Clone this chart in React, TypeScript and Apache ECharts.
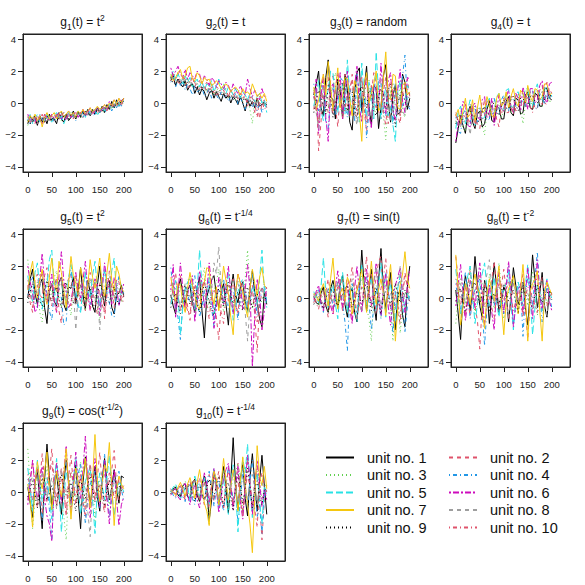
import React, { useEffect, useRef } from "react";
import * as echarts from "echarts";

const timeSteps = [0,5,10,15,20,25,30,35,40,45,50,55,60,65,70,75,80,85,90,95,100,105,110,115,120,125,130,135,140,145,150,155,160,165,170,175,180,185,190,195,200];
const xTicks = [0, 50, 100, 150, 200];
const yTicks = [-4, -2, 0, 2, 4];

const unitNames = ["unit no. 1", "unit no. 2", "unit no. 3", "unit no. 4", "unit no. 5", "unit no. 6", "unit no. 7", "unit no. 8", "unit no. 9", "unit no. 10"];
const unitColors = ["#000000", "#DF536B", "#61D04F", "#2297E6", "#28E2E5", "#CD0BBC", "#F5C710", "#9E9E9E", "#000000", "#DF536B"];
const unitDashes: any[] = ["solid", [4, 4], [1, 3], [1, 3, 4, 3], [7, 3], [2, 2, 6, 2], "solid", [4, 4], [1, 3], [1, 3, 4, 3]];

const titleSubs = ["1", "2", "3", "4", "5", "6", "7", "8", "9", "10"];
const titleBodies = ["(t) = t", "(t) = t", "(t) = random", "(t) = t", "(t) = t", "(t) = t", "(t) = sin(t)", "(t) = t", "(t) = cos(t", "(t) = t"];
const titleSups = ["2", "", "", "", "2", "-1/4", "", "-2", "-1/2", "-1/4"];
const titleTails = ["", "", "", "", "", "", "", "", ")", ""];

const panel1 = [
  [-1.3,-0.8,-1.2,-0.9,-1.4,-0.8,-1.2,-0.9,-1.3,-0.7,-1.1,-1.0,-1.3,-0.6,-1.0,-1.2,-0.7,-1.1,-0.9,-0.5,-1.0,-0.6,-0.9,-0.5,-0.8,-0.4,-0.8,-0.4,-0.7,-0.3,-0.6,-0.2,-0.6,-0.1,-0.4,0.1,-0.3,0.2,-0.2,0.1,0.3],
  [-0.8,-1.2,-1.0,-1.3,-0.9,-1.1,-0.7,-1.2,-0.9,-1.0,-1.2,-0.7,-0.9,-1.1,-0.6,-0.9,-1.0,-0.6,-0.8,-1.0,-0.5,-0.9,-0.7,-0.9,-0.4,-0.8,-0.6,-0.3,-0.7,-0.5,-0.2,-0.6,-0.3,-0.5,0.0,-0.4,-0.1,-0.3,0.2,-0.2,0.3],
  [-1.4,-1.0,-0.8,-1.2,-1.1,-0.8,-1.2,-0.7,-1.0,-1.2,-0.8,-1.1,-0.6,-0.9,-1.1,-0.7,-1.0,-0.8,-0.6,-1.0,-0.8,-0.5,-0.9,-0.8,-0.5,-0.7,-0.8,-0.4,-0.6,-0.7,-0.3,-0.5,-0.6,-0.2,-0.3,-0.4,0.0,-0.2,0.1,-0.1,0.0],
  [-1.0,-1.3,-0.8,-1.1,-1.3,-0.7,-1.0,-1.2,-0.8,-1.1,-0.9,-1.2,-0.8,-0.7,-1.1,-0.6,-0.9,-1.0,-0.7,-0.9,-1.1,-0.6,-0.8,-0.9,-0.6,-0.8,-0.5,-0.8,-0.7,-0.4,-0.6,-0.3,-0.6,-0.4,-0.2,-0.5,-0.1,-0.3,0.1,-0.2,0.2],
  [-1.1,-0.7,-1.3,-1.0,-0.7,-1.2,-0.9,-1.1,-0.7,-1.0,-1.2,-0.8,-0.6,-1.0,-0.8,-1.3,-0.9,-0.6,-0.9,-0.7,-1.0,-0.5,-0.8,-0.6,-0.9,-0.4,-0.7,-0.6,-0.4,-0.8,-0.5,-0.2,-0.5,-0.3,-0.1,-0.4,-0.2,0.1,-0.2,0.2,0.1],
  [-0.7,-1.1,-0.9,-1.2,-0.8,-1.0,-1.3,-0.7,-0.9,-1.1,-0.7,-1.0,-0.8,-0.6,-1.0,-0.8,-1.1,-0.5,-0.9,-0.7,-0.6,-0.9,-0.6,-0.4,-0.8,-0.6,-0.3,-0.7,-0.5,-0.3,-0.5,-0.4,-0.1,-0.4,0.1,-0.2,0.2,-0.1,0.3,0.1,0.3],
  [-1.2,-0.8,-1.0,-0.7,-1.1,-0.8,-1.5,-0.9,-0.6,-1.0,-0.8,-0.6,-1.0,-0.7,-0.5,-0.9,-0.7,-0.5,-0.8,-0.6,-0.9,-0.5,-0.7,-0.4,-0.7,-0.5,-0.3,-0.6,-0.4,-0.2,-0.4,-0.3,-0.1,-0.3,0.0,-0.2,0.2,-0.1,0.3,0.0,0.3],
  [-1.0,-1.1,-1.2,-0.9,-1.0,-1.1,-0.8,-1.0,-0.9,-0.8,-1.0,-0.9,-0.8,-0.9,-0.7,-0.9,-0.8,-0.7,-0.9,-0.7,-0.8,-0.7,-0.6,-0.7,-0.6,-0.7,-0.5,-0.6,-0.5,-0.4,-0.5,-0.4,-0.4,-0.3,-0.3,-0.2,-0.2,-0.1,-0.1,0.0,0.1],
  [-1.1,-1.3,-1.0,-0.8,-1.2,-1.0,-0.9,-1.2,-0.8,-1.0,-1.1,-0.8,-0.9,-1.0,-0.6,-0.9,-0.8,-1.0,-0.7,-0.8,-0.9,-0.6,-0.8,-0.7,-0.5,-0.7,-0.6,-0.5,-0.7,-0.4,-0.5,-0.5,-0.3,-0.4,-0.3,-0.1,-0.3,0.0,-0.1,0.1,0.1],
  [-0.9,-1.2,-1.1,-0.8,-1.3,-0.9,-1.0,-0.7,-1.1,-0.9,-0.8,-1.1,-0.7,-0.9,-0.8,-0.6,-1.0,-0.8,-0.7,-1.0,-0.7,-0.8,-0.6,-0.9,-0.7,-0.5,-0.8,-0.6,-0.4,-0.6,-0.5,-0.3,-0.4,-0.5,-0.2,-0.3,-0.1,-0.2,0.0,-0.1,0.2],
];
const panel2 = [
  [1.4,1.7,1.1,1.5,1.2,1.0,1.4,0.8,1.1,1.2,0.6,1.0,0.5,0.9,0.7,0.2,0.6,0.8,0.3,0.7,0.4,0.1,0.6,0.3,0.5,0.0,0.4,0.2,-0.1,0.4,0.0,-0.5,0.2,-0.2,0.1,-0.3,0.3,-0.2,-0.1,0.0,-0.1],
  [1.7,1.3,1.5,1.9,1.3,1.6,1.1,1.5,1.2,1.7,1.0,1.3,1.4,0.9,1.1,1.3,0.8,1.2,0.6,1.0,0.9,0.5,0.8,0.9,0.4,0.8,0.5,0.7,0.2,0.6,0.3,0.5,-0.2,0.4,0.1,-0.6,0.3,-1.0,0.0,0.2,-0.3],
  [1.5,1.9,1.6,1.2,1.4,1.7,1.1,1.5,1.3,1.0,1.4,1.2,0.8,1.1,1.0,0.7,1.2,0.9,0.5,0.8,0.9,0.5,0.7,0.6,0.3,0.8,0.5,0.2,0.6,0.4,0.1,0.5,0.3,-0.4,-1.3,0.2,0.0,0.4,0.1,-0.2,-0.1],
  [1.3,1.6,1.0,1.4,1.1,1.5,0.8,1.2,0.9,0.5,1.1,0.7,0.8,1.0,0.4,0.6,0.9,0.3,0.6,0.5,0.2,0.7,0.3,0.5,0.1,0.4,0.2,0.6,-0.1,0.3,0.0,-0.4,0.2,0.1,-0.3,0.2,-0.5,0.0,-0.6,-0.1,-0.2],
  [1.6,2.0,1.4,1.8,1.5,1.2,1.7,1.3,1.6,1.0,1.3,1.5,1.0,1.4,0.8,1.2,1.0,1.4,0.7,1.1,1.5,0.8,1.2,0.6,1.0,0.8,0.5,0.9,0.6,0.3,0.7,0.5,0.2,0.6,0.3,0.1,0.4,0.6,0.0,0.2,-0.6],
  [2.2,1.7,2.0,2.3,1.8,1.6,2.1,1.5,1.9,1.7,1.5,2.0,1.8,1.3,1.7,1.5,1.1,1.6,1.4,1.0,1.4,1.2,0.9,1.3,1.1,0.7,1.2,0.8,0.6,1.1,0.7,0.5,1.5,0.9,0.4,0.8,0.5,0.2,0.9,0.4,0.4],
  [1.8,1.4,1.6,1.9,2.1,1.5,1.7,2.2,2.3,1.5,1.4,1.9,1.7,1.2,1.6,1.4,1.5,1.1,1.2,1.4,1.2,0.9,1.1,1.2,1.0,0.7,0.9,1.0,0.8,0.5,0.9,0.6,0.7,0.5,1.2,0.8,0.4,0.6,0.3,0.6,0.1],
  [1.5,1.6,1.6,1.4,1.3,1.5,1.4,1.2,1.3,1.1,1.1,1.2,1.1,1.0,0.9,0.9,0.9,0.8,0.8,0.7,0.7,0.6,0.6,0.6,0.5,0.5,0.4,0.5,0.3,0.3,0.3,0.2,0.3,0.1,0.1,0.2,0.0,0.1,0.0,-0.1,0.1],
  [1.6,1.2,1.3,1.5,1.2,1.4,1.1,1.3,1.0,1.2,0.9,1.1,0.8,1.0,0.7,0.9,0.6,0.8,0.5,0.7,0.5,0.6,0.4,0.5,0.3,0.5,0.2,0.4,0.1,0.3,0.2,0.3,0.0,0.2,-0.1,0.1,-0.2,0.0,-0.1,0.1,0.0],
  [1.4,1.8,1.7,1.3,1.2,1.6,1.5,1.0,1.0,1.4,1.3,0.8,0.9,1.2,1.1,0.7,0.7,1.0,0.9,0.5,0.6,0.9,0.8,0.4,0.4,0.8,0.6,0.3,0.3,0.6,0.5,0.2,0.1,0.5,0.3,0.0,-0.9,0.2,0.1,-0.4,-0.2],
];
const panel3 = [
  [0.5,1.2,2.0,-0.3,-0.8,1.6,2.7,0.4,0.2,-1.0,1.5,0.8,-1.0,1.8,0.8,-1.2,-1.7,0.6,1.9,2.2,-0.5,0.9,2.3,-0.2,-1.4,1.1,0.9,-1.6,-0.3,1.7,2.4,0.2,-1.2,0.5,1.1,-0.7,-0.6,1.8,1.3,-0.4,0.3],
  [-0.4,0.9,-3.0,-1.2,1.2,0.3,-0.6,1.4,1.7,-0.2,-1.5,0.6,0.9,1.8,-0.2,0.5,1.8,-0.7,-0.9,1.1,1.4,-0.4,-1.8,0.2,0.6,1.9,1.3,-0.5,-1.0,0.7,1.6,-1.3,-0.4,1.0,0.8,-0.8,-1.3,0.4,1.0,1.5,0.4],
  [0.8,-0.3,-1.2,1.1,1.5,-0.6,-0.3,0.7,0.9,1.9,1.3,-0.2,-0.8,1.0,1.7,-0.9,-0.4,0.8,0.6,-1.2,-1.1,0.5,1.2,1.5,0.3,-0.4,-0.6,0.9,1.5,-0.8,-2.3,0.1,0.7,1.3,-0.5,0.2,1.1,-0.6,-0.9,0.8,0.6],
  [1.2,0.1,-0.5,1.3,0.6,-1.2,-1.6,0.4,1.0,-0.8,-0.3,1.6,1.4,-0.2,-0.9,0.8,0.5,-1.1,1.8,0.6,-0.7,1.2,-2.2,-0.5,1.0,0.3,-0.2,1.5,1.2,-0.4,-0.8,0.9,0.4,-1.3,1.3,0.2,-0.5,1.7,3.0,-0.1,-0.4],
  [-0.2,0.6,1.4,-0.5,-1.1,0.3,0.8,2.0,1.9,-0.3,-0.6,1.0,1.2,-0.7,2.7,0.5,-0.4,1.1,0.7,-1.2,2.5,0.4,-0.9,1.3,0.5,-1.0,3.2,0.6,-1.0,0.4,0.9,-0.8,-0.3,-1.4,-2.4,0.7,1.4,-0.2,0.2,1.1,0.8],
  [0.3,1.5,-1.9,0.4,1.8,-0.9,-2.4,0.9,1.2,-0.4,0.5,1.9,-1.0,0.6,2.0,-0.8,-0.2,1.1,2.3,-0.3,-1.2,0.7,1.6,-0.7,-1.6,1.2,0.8,-0.4,2.5,0.3,-0.7,1.4,1.9,-0.5,-1.1,0.9,2.1,0.1,-0.6,1.6,1.5],
  [1.0,-0.4,0.2,1.2,1.8,0.5,2.6,1.1,-0.5,0.8,2.2,-0.3,0.4,1.6,1.5,0.2,-0.8,1.4,1.0,-0.6,-2.4,1.1,1.9,0.0,0.6,1.2,2.0,-0.5,-0.2,1.5,3.2,0.4,0.2,1.8,1.7,-0.3,-0.4,1.1,1.3,0.5,0.7],
  [0.4,-0.6,-1.6,0.2,0.9,0.5,0.1,-0.3,-0.7,0.6,1.1,0.2,0.3,-0.5,-0.4,0.7,0.9,-0.6,-1.4,0.1,0.6,0.8,0.0,-0.4,-0.9,0.3,0.8,0.4,-0.3,-0.6,1.0,0.2,-1.2,-0.1,0.5,0.6,0.2,-0.5,-0.8,0.4,0.3],
  [-0.6,0.2,0.8,0.4,-0.2,-0.7,1.1,0.3,-0.9,0.1,0.4,0.9,1.3,-0.2,-0.5,0.6,0.7,-0.4,-1.0,0.5,1.0,0.2,-0.3,0.8,0.6,-0.5,-0.8,0.3,0.9,0.6,-0.4,0.8,1.2,-0.3,-1.5,0.0,0.5,0.7,0.1,-0.3,-0.2],
  [0.7,-0.5,-1.3,0.6,0.2,1.1,1.6,-0.2,-0.6,0.9,1.9,0.4,-0.9,-0.3,0.4,1.0,1.4,0.3,-0.5,0.8,1.7,-0.4,-1.2,0.6,1.1,0.2,-0.3,0.9,0.8,-0.6,-1.4,0.5,1.5,0.7,0.0,-0.4,-0.8,0.6,1.2,0.9,0.5],
];
const panel4 = [
  [-2.5,-1.6,-0.8,-1.4,-1.9,-0.6,-0.2,-1.2,-1.6,-0.7,-0.5,-1.5,-1.3,-0.4,0.1,-1.1,-1.2,-0.2,-0.3,-1.0,-1.0,0.1,0.4,-0.6,-0.8,0.3,0.2,-0.7,-0.6,0.5,0.7,-0.3,-0.4,0.6,0.5,-0.2,-0.2,0.9,0.9,0.3,0.2],
  [-0.7,-1.4,-1.5,-0.4,0.0,-1.0,-1.2,-0.3,-0.4,-1.3,-1.6,-0.5,0.2,-0.8,-0.9,0.1,-0.1,-1.0,-1.5,-0.2,0.3,-0.6,-0.6,0.4,0.4,-0.5,-0.4,0.6,0.8,-0.2,-0.2,0.7,0.6,-0.4,-0.3,0.8,1.1,0.0,-0.1,0.9,0.6],
  [-1.2,-0.6,-0.5,-1.6,-1.8,-0.5,-0.3,-1.0,-1.0,-0.2,-0.6,-1.4,-2.0,-0.4,0.0,-0.9,-0.8,0.1,-0.2,-0.9,-0.5,0.3,0.2,-0.6,-0.4,0.5,0.5,-0.3,-1.3,-0.1,0.6,0.2,-0.3,0.7,0.9,-0.1,-0.2,0.8,0.7,0.0,0.3],
  [-0.9,-1.8,-1.9,-0.7,-0.4,-1.3,-1.3,-0.3,-0.2,-1.2,-0.9,-0.3,-0.7,-1.1,-1.0,-0.1,0.3,-0.6,-0.7,0.2,0.5,-0.4,-0.5,0.4,0.2,-0.3,0.0,0.6,0.6,-0.2,-0.1,0.7,0.8,-0.3,-0.4,0.6,0.5,-0.1,1.0,0.7,0.4],
  [-1.6,-0.6,-0.2,-1.0,-1.3,-0.4,0.2,-0.8,-1.4,-0.5,-0.3,-1.0,-0.9,0.0,0.3,-0.7,-0.6,0.4,0.6,-0.3,-0.4,0.8,0.9,-0.2,-0.3,0.6,0.7,0.0,0.1,0.9,0.9,-0.1,-0.2,0.8,1.2,0.3,0.2,1.0,0.8,0.2,0.5],
  [-2.4,-1.2,-0.9,0.1,-0.1,-1.4,-1.5,-0.2,0.0,-0.8,-1.1,0.2,0.4,-0.9,-0.6,0.3,-1.4,-0.5,0.5,-0.4,-0.5,0.4,0.8,-0.2,-0.6,0.6,0.3,-0.5,1.0,0.4,-0.4,0.9,0.9,0.0,0.2,1.1,1.4,0.3,0.0,1.2,1.3],
  [-0.8,-0.4,-1.3,-0.5,0.3,-0.9,-0.7,0.2,-1.2,-0.3,0.5,-0.6,-0.5,0.4,-0.1,-0.8,-0.9,0.3,0.6,-0.2,0.0,0.7,-0.3,0.4,0.9,0.1,-0.2,0.8,0.6,0.0,1.1,0.4,0.1,0.9,0.8,0.2,0.4,1.2,1.2,0.5,0.6],
  [-1.1,-1.3,-1.5,-0.8,-0.6,-1.2,-2.0,-0.7,-0.5,-0.8,-0.9,-0.4,-0.3,-0.6,-0.7,-0.3,-0.4,-0.5,-0.2,-0.3,-0.6,0.0,0.1,-0.2,-0.3,0.2,0.3,0.0,0.0,0.2,0.4,0.1,0.1,0.4,0.5,0.2,0.3,0.4,0.4,0.3,0.2],
  [-1.3,-0.9,-0.7,-1.2,-1.1,-0.6,-0.4,-0.9,-0.8,-1.1,-1.2,-0.5,-0.2,-0.7,-0.6,-0.1,0.0,-0.5,-0.8,-0.2,0.2,-0.3,-0.4,0.2,0.4,-0.1,-0.5,0.3,0.3,0.0,-0.1,0.4,0.5,0.1,0.0,0.5,0.7,0.2,0.2,0.6,0.3],
  [-0.6,-1.1,-1.4,-0.7,-0.9,-1.3,-0.1,-0.6,-1.5,-0.4,-0.3,-1.0,-0.8,0.1,0.2,-0.5,-0.9,-0.2,-0.1,-0.7,-0.4,0.1,0.3,-0.3,-0.7,0.4,0.6,-0.1,-0.2,0.5,0.3,-0.2,-0.6,0.5,0.8,0.1,-0.1,0.9,1.3,0.4,0.4],
];
const panel5 = [
  [0.0,1.2,1.8,0.3,-0.4,0.8,1.2,-0.6,-1.6,0.4,0.9,-0.2,-0.5,1.0,1.3,-0.4,-0.8,0.7,0.6,1.3,-0.3,0.5,1.9,0.2,-0.7,1.1,0.4,-0.5,-0.9,0.8,2.0,0.3,-0.5,0.9,1.1,-0.6,-1.0,0.2,0.3,0.8,0.1],
  [0.8,-0.3,-0.9,1.1,1.5,0.2,0.0,1.4,1.9,0.3,-0.5,0.7,1.3,-0.8,-1.6,0.5,0.8,1.2,1.5,0.1,-0.3,0.9,1.1,-0.2,-0.8,0.6,1.6,0.4,-0.2,-1.0,0.9,1.3,-1.3,0.2,1.7,0.6,-0.6,1.2,1.0,-0.2,0.2],
  [2.4,0.8,-0.3,0.5,1.0,-0.9,-1.5,0.3,1.2,0.7,0.2,1.3,1.7,0.0,-0.6,0.9,0.9,-0.3,-1.1,0.6,1.4,0.5,0.1,-0.4,-0.8,0.7,1.2,0.8,0.4,-0.5,-1.4,0.2,0.7,1.1,1.5,0.4,-0.2,0.9,0.6,-0.3,0.0],
  [0.2,0.9,1.3,-0.3,-0.6,0.8,1.6,0.9,0.3,-0.8,-1.4,0.4,1.1,0.6,0.0,-1.7,-1.5,0.8,1.8,0.5,0.1,-0.6,-0.9,0.7,1.5,0.3,-0.4,0.6,1.0,-0.2,-0.7,0.9,1.7,0.3,-0.3,-1.1,-1.2,0.5,1.4,0.7,0.3],
  [1.4,0.4,-0.2,1.6,2.2,0.3,-0.7,0.5,0.8,2.4,3.0,0.6,-0.4,0.9,1.2,0.2,-0.2,1.3,2.1,0.8,0.5,-0.4,-0.9,0.7,1.6,0.5,0.0,1.4,2.3,0.6,-0.5,0.8,1.8,0.9,0.3,1.7,2.5,0.2,-0.3,0.4,0.7],
  [2.0,1.0,0.3,-0.9,-0.6,1.2,2.8,0.9,0.1,0.6,1.5,-0.2,-0.9,1.4,2.9,1.1,0.4,-0.6,-0.3,0.8,1.6,0.5,0.0,1.1,2.3,0.4,-0.8,0.2,1.2,0.9,-1.1,0.5,2.2,1.0,0.6,-0.4,1.3,0.7,-0.5,0.3,0.9],
  [0.5,1.6,2.3,0.9,0.0,1.1,1.8,0.2,-0.4,1.3,2.5,1.0,0.4,2.3,1.6,0.5,-0.6,0.9,2.6,1.4,0.9,0.1,1.9,1.2,-0.1,0.8,2.4,1.3,0.6,1.5,2.5,0.7,0.1,1.6,2.8,1.1,0.4,2.0,1.5,0.6,0.4],
  [0.6,0.9,1.0,0.5,0.2,0.8,1.2,0.6,-0.3,0.4,0.9,0.7,0.4,0.8,1.1,0.3,0.0,0.6,0.8,0.5,-2.0,0.3,0.7,0.9,0.3,0.6,1.0,0.2,-0.2,0.5,-2.0,0.4,0.5,0.8,0.9,0.3,0.1,0.7,0.6,0.2,0.2],
  [-0.3,0.4,0.9,0.5,0.2,-0.2,-0.5,0.6,1.1,0.3,-0.2,0.4,0.7,-0.1,-0.6,0.5,1.0,0.2,0.1,-0.3,-0.4,0.5,0.8,0.3,-0.1,0.4,0.6,-0.2,-0.7,0.3,0.9,0.5,0.0,-0.2,-0.3,0.4,0.7,-0.1,-0.4,0.2,0.1],
  [1.1,0.3,-0.6,0.2,0.7,1.2,1.5,0.4,-0.3,0.5,0.9,-0.2,-0.8,0.6,1.3,0.7,0.2,-0.3,-0.5,0.8,1.4,0.3,-0.2,0.4,0.8,-0.1,-0.7,0.5,1.1,0.6,0.3,-0.4,-0.9,0.5,1.2,0.7,0.0,0.2,0.5,-0.2,-0.2],
];
const panel6 = [
  [0.2,-0.5,-1.0,0.6,1.2,0.3,-0.4,0.5,0.8,-0.3,-0.9,0.7,1.3,-0.8,-2.5,0.1,0.6,1.1,1.4,0.2,-0.6,0.4,0.9,-0.4,-1.7,0.5,1.5,0.2,-0.3,0.7,1.0,-0.2,-0.8,0.6,1.7,0.3,-0.2,-1.3,-1.8,0.4,-0.4],
  [-0.3,0.6,1.6,0.2,-0.8,-0.1,0.5,-0.5,-1.4,0.3,0.9,0.4,0.2,-0.4,-0.6,0.7,1.1,0.1,-0.4,-1.2,-2.6,-0.3,0.7,0.9,-0.2,0.3,1.2,-0.1,-1.1,0.2,0.4,-0.6,-0.5,0.3,0.8,-1.1,-3.4,-0.4,0.3,0.6,0.1],
  [0.4,0.9,-0.7,-0.3,0.9,0.4,-0.2,1.0,1.5,0.6,-1.2,-0.4,0.3,1.1,1.9,0.2,-0.6,0.1,0.5,1.0,1.8,0.3,-0.9,0.4,0.8,0.2,-0.4,0.6,1.1,0.4,-0.3,1.2,3.0,0.6,-0.7,0.1,0.6,-0.3,-0.2,0.5,0.2],
  [1.9,0.4,-0.5,-1.2,-2.6,-0.3,0.7,0.2,-0.3,0.8,1.4,0.1,-1.2,-0.5,0.4,0.9,1.0,-0.6,-1.8,0.2,0.3,0.8,1.2,-0.1,-0.7,0.3,0.6,-0.2,-1.4,0.1,0.9,0.5,-0.4,0.7,1.6,0.2,-1.1,-0.3,0.5,0.9,-0.3],
  [-0.4,0.3,1.1,0.2,-2.3,-0.6,0.6,1.0,1.2,0.1,-0.8,0.5,3.0,0.8,-0.5,-0.1,1.3,0.4,-1.0,-0.2,0.7,1.0,-0.3,0.2,1.6,0.5,-1.4,-0.5,0.4,0.9,1.2,0.1,-0.9,-0.2,0.7,0.3,-0.5,1.2,3.0,0.4,-0.6],
  [0.5,2.1,-1.2,0.3,2.2,0.6,-0.8,0.2,0.9,1.4,-1.5,-0.2,1.7,0.9,-0.6,0.4,2.2,0.8,-1.9,-0.6,1.3,0.5,-0.4,0.7,2.0,0.4,-1.0,0.3,1.5,1.0,-0.7,0.5,2.1,0.6,-4.3,-1.1,1.2,0.3,-2.0,-0.8,0.8],
  [1.3,0.4,-0.2,0.9,0.8,-0.3,-0.9,0.6,1.6,0.8,0.2,-0.5,-0.7,0.5,1.0,1.9,1.8,0.3,-0.4,0.7,-0.8,0.6,2.0,1.1,0.3,-1.2,-2.3,0.4,1.5,0.9,0.4,-0.5,-1.2,0.6,1.8,0.9,0.1,1.3,1.9,0.8,0.6],
  [0.0,0.4,0.6,0.1,-0.5,0.3,0.9,0.5,0.1,-0.3,-0.6,0.4,0.8,0.6,0.2,-0.1,-0.3,0.5,2.2,1.5,3.2,0.6,-0.2,0.1,0.5,-0.4,-0.7,0.3,0.9,0.4,0.0,-0.9,-2.7,-0.3,0.4,0.2,-0.4,0.3,0.7,0.2,0.1],
  [-0.6,-0.1,0.3,-0.4,-1.0,0.2,0.8,0.3,-0.4,0.1,0.5,-0.3,-0.9,0.2,0.9,0.4,-0.2,-0.7,-1.1,0.1,0.6,0.2,-0.5,0.4,1.0,0.2,-0.3,0.1,0.4,-0.4,-0.8,0.2,0.7,0.0,-0.6,0.1,0.3,-0.2,-0.1,0.1,-0.2],
  [0.8,0.3,-0.4,0.6,1.4,0.4,-0.3,-0.8,-1.0,0.2,0.7,0.3,-0.2,0.6,1.2,-0.4,-1.3,0.1,0.5,0.2,0.0,-0.9,-1.6,0.2,0.9,0.5,0.2,-0.5,-0.9,0.4,1.1,0.3,-0.5,0.1,0.4,-0.6,-1.5,0.2,0.6,0.4,0.2],
];
const panel7 = [
  [0.1,-0.3,-0.4,0.3,0.7,-0.5,-0.9,0.6,1.1,0.2,-0.6,0.9,1.4,-0.4,-1.2,0.3,0.6,-0.9,-1.5,0.4,3.0,0.8,-0.8,0.5,1.8,-0.3,-1.4,1.1,3.1,0.6,-0.7,0.4,1.6,-0.8,-2.0,0.2,0.5,-1.1,-1.8,0.7,2.0],
  [-0.3,0.2,0.5,-0.2,-0.6,0.4,1.2,0.3,-1.0,-0.2,0.8,1.3,-0.7,0.2,1.5,0.4,-1.4,-0.3,0.9,-0.5,-0.8,1.1,2.6,0.6,-0.5,0.3,1.3,2.3,2.6,0.1,-0.9,0.7,1.2,0.2,-0.3,-0.9,-1.6,0.5,1.6,0.7,-0.4],
  [0.2,0.4,-0.5,-0.2,0.4,0.6,-0.8,-0.3,0.9,0.4,-0.3,0.8,1.3,0.1,-0.9,0.5,0.7,-0.4,-1.1,0.3,1.4,0.6,-0.6,-1.3,-2.7,0.2,0.8,0.4,-1.2,0.3,1.5,0.2,-0.4,-2.7,1.0,0.4,-2.2,-0.6,0.4,0.1,0.1],
  [-0.2,0.1,0.6,-0.4,-0.9,0.2,0.5,0.8,-0.7,-0.2,1.1,0.5,-0.4,-1.5,-3.3,0.3,0.9,-0.4,-1.0,0.6,0.5,1.1,1.4,-0.3,-2.0,-0.6,0.7,-0.2,-1.3,0.4,1.6,0.5,-0.6,-2.2,0.4,0.8,1.1,-0.4,-2.1,-0.5,0.3],
  [0.4,0.0,-0.3,0.7,2.5,0.4,-0.6,0.3,0.8,-0.4,-1.3,0.6,1.6,0.2,-0.9,0.5,0.6,-0.6,-1.5,0.9,2.1,0.3,-0.5,0.7,1.3,-0.2,-0.8,0.9,2.2,0.4,-1.2,0.3,0.9,-0.3,-1.5,0.6,1.4,0.2,-0.6,0.3,-0.1],
  [-0.1,0.4,0.8,-0.3,-0.8,0.3,0.4,-0.5,-1.0,0.7,1.7,0.3,-0.6,0.4,0.9,-0.7,-1.6,0.6,2.0,0.4,-0.9,0.5,1.8,0.2,-0.4,0.9,2.2,0.3,-1.1,0.6,1.5,-0.5,-1.7,0.2,0.8,1.3,1.9,0.3,-0.9,0.8,1.8],
  [0.3,0.1,-0.2,0.5,0.9,0.2,-0.5,1.2,2.5,0.5,-0.7,0.3,0.6,-0.2,1.3,0.9,-1.0,-0.3,0.5,1.1,1.8,0.4,-0.9,0.8,2.3,0.6,-0.4,0.5,1.2,0.3,-1.1,0.9,2.1,0.2,-2.7,-0.6,0.8,1.5,2.9,1.2,0.6],
  [0.0,0.2,0.3,-0.1,-0.4,0.2,0.6,0.3,-0.2,0.4,0.9,0.3,0.2,-0.3,-0.6,0.3,1.2,0.5,0.1,-0.4,-0.9,0.2,0.7,0.1,-0.3,0.8,2.0,0.4,-0.5,0.2,0.9,0.5,0.3,-0.2,-0.7,0.6,2.0,0.7,0.0,0.2,0.4],
  [-0.4,-0.1,0.1,-0.3,-0.7,0.0,0.3,0.5,0.5,-0.2,-0.5,0.1,0.2,0.6,0.8,0.1,-0.6,-0.1,0.3,0.0,-0.4,0.5,1.0,0.2,-0.8,0.0,0.6,-0.3,-1.0,0.1,0.4,0.2,-0.5,0.3,0.9,0.2,-0.3,0.1,0.5,0.0,-0.2],
  [0.2,-0.3,-0.7,0.1,0.5,-0.4,-1.2,0.0,0.3,0.7,1.0,0.2,-0.8,-0.1,0.4,0.8,2.0,0.4,-1.3,-0.2,0.7,0.3,-0.2,0.6,1.5,0.3,-1.0,-0.2,0.6,1.2,2.5,0.4,-0.7,-0.1,0.2,-0.5,-1.2,0.3,1.3,0.8,0.5],
];
const panel8 = [
  [0.5,-1.0,-2.6,0.2,1.4,0.6,-0.8,0.4,2.6,0.9,-0.5,-1.2,1.1,0.5,-1.6,0.3,2.2,0.7,-0.9,-0.2,0.7,0.3,-1.5,0.1,1.9,0.8,-0.4,0.2,1.0,-0.6,-1.7,0.4,2.7,1.1,-0.6,0.3,1.6,-0.5,-1.2,0.4,0.3],
  [2.6,1.2,0.2,-0.6,-1.2,0.8,1.7,0.5,-0.5,-1.4,-3.2,-0.4,1.0,0.3,-0.6,1.1,2.3,0.6,-0.8,0.7,1.8,0.4,-1.4,-0.3,0.9,0.5,-0.3,0.8,1.5,-0.7,-2.6,-0.2,0.6,1.1,1.2,-0.1,-0.9,0.3,0.4,0.1,-0.2],
  [-1.6,0.1,1.3,0.6,-0.4,0.8,2.0,0.3,-1.0,-0.2,0.6,0.9,-0.3,-0.5,1.5,0.7,-0.7,0.4,2.2,0.5,-1.3,-0.4,0.4,0.8,1.1,0.2,-0.8,0.1,0.9,0.6,-0.5,0.3,1.7,0.4,-1.1,-0.2,0.3,0.5,-0.4,0.2,0.1],
  [0.9,-0.2,-0.7,0.5,1.6,0.2,-1.3,0.1,0.5,0.9,1.2,-0.8,-3.0,-0.6,0.8,0.3,-0.5,0.6,1.4,0.2,-1.0,0.5,2.0,0.6,-1.6,-0.3,0.6,0.8,-2.4,0.2,1.3,0.4,-0.4,1.2,2.9,0.3,-1.5,-0.2,0.7,0.1,-0.6],
  [1.8,0.4,-1.0,-0.3,0.7,1.4,2.0,0.2,-1.6,-0.4,0.9,1.5,2.2,0.6,-0.6,0.4,1.3,-0.3,-1.2,0.2,0.5,0.9,1.6,-0.4,-2.0,-0.2,1.0,0.3,-0.5,0.8,2.1,0.2,-2.3,-0.6,0.8,0.4,-0.8,0.5,1.2,0.3,0.0],
  [-0.5,0.8,2.1,0.3,-1.4,-0.2,1.1,0.4,-0.6,0.9,2.2,0.1,-1.7,-0.3,0.8,-0.9,-2.0,0.6,1.6,0.2,-0.9,0.7,2.3,0.5,-1.8,-0.5,0.5,0.9,-1.0,0.3,1.9,0.4,-1.3,0.7,2.4,0.2,-0.7,0.4,1.1,-0.2,-0.8],
  [2.7,0.5,-1.7,-0.6,0.9,0.3,-0.4,0.8,1.5,0.6,0.3,-0.9,-1.9,0.2,1.2,0.5,-0.2,0.9,2.0,-0.4,-2.3,-0.2,0.6,0.9,1.4,0.3,-1.0,0.5,2.1,0.1,-2.7,0.4,0.9,1.2,1.7,-0.8,-2.7,0.3,1.0,0.6,0.2],
  [0.4,0.6,0.9,0.2,-0.3,0.4,1.1,0.5,0.2,-0.2,-0.6,0.3,0.8,1.5,2.4,0.6,-0.4,0.2,0.7,0.4,0.1,-0.4,-1.2,0.2,0.9,0.4,-0.3,0.3,1.0,0.5,0.3,-0.2,-0.7,0.1,0.6,0.3,0.0,-0.5,-1.1,0.0,0.2],
  [-0.2,0.3,0.6,-0.2,-0.9,0.1,0.4,0.7,1.0,0.2,-0.4,0.3,0.7,-0.1,-0.8,0.0,0.3,-0.1,-0.5,0.4,0.9,0.3,-0.2,0.1,0.5,-0.3,-0.9,0.0,0.6,0.2,0.0,-0.3,-0.6,0.2,0.8,0.1,-0.3,0.1,0.4,0.1,-0.1],
  [1.2,0.4,-0.4,0.3,0.8,-0.2,-1.1,0.0,0.3,0.9,1.5,0.4,-0.6,-0.1,0.2,-0.6,-1.3,0.2,0.9,0.3,-0.2,0.5,1.1,0.1,-0.8,-0.2,0.4,0.1,-1.2,0.0,0.7,0.4,0.1,-0.5,-0.9,0.5,1.3,0.3,-0.5,0.0,0.3],
];
const panel9 = [
  [0.3,-0.7,-1.6,0.5,1.4,-0.6,-2.3,0.8,3.0,0.9,-0.9,0.2,1.2,-0.3,-1.4,0.6,2.0,0.7,-0.6,0.5,1.7,-0.4,-2.3,0.6,2.2,0.5,-0.8,0.4,1.6,-0.3,-1.2,0.8,2.1,0.6,-0.5,0.3,1.4,0.2,-0.7,1.0,0.9],
  [-0.5,0.8,1.9,0.2,-1.0,0.6,2.4,0.7,-0.7,1.1,2.7,0.6,-0.4,0.5,1.5,-0.2,-1.3,0.9,2.3,0.4,-0.8,0.3,1.1,-0.6,-1.6,0.4,1.8,0.6,-0.3,0.9,2.5,0.3,-1.1,-0.2,0.8,1.4,2.6,0.5,-0.5,0.2,0.4],
  [2.7,0.4,-2.3,-0.5,0.9,0.3,-0.4,0.7,1.6,0.2,-1.2,0.5,2.0,0.6,-0.6,-1.5,-3.0,0.2,1.2,0.5,-0.5,0.8,1.9,0.3,-0.9,0.4,1.4,0.6,-1.8,-0.3,0.7,1.2,1.6,0.1,-0.8,0.4,1.0,0.3,-0.3,0.5,0.2],
  [0.8,0.1,-0.9,0.6,1.6,-0.2,-1.8,-0.3,0.4,-1.1,-3.0,0.2,1.3,0.4,-0.5,0.9,2.1,0.5,-1.2,-0.2,0.6,1.1,1.8,-0.3,-2.0,-0.4,0.5,0.8,1.4,0.2,-1.0,0.6,2.4,0.3,-1.6,-0.4,0.7,0.9,1.3,0.2,-0.6],
  [1.5,0.2,-1.2,0.6,2.0,0.5,-0.6,0.3,0.9,-0.4,-1.7,0.6,2.1,0.2,-2.5,-0.4,1.3,0.5,-0.8,0.7,2.2,0.3,-1.4,-0.2,0.7,1.1,1.6,-0.5,-2.6,0.2,1.2,0.4,-0.5,0.9,2.3,0.1,-1.5,-0.3,0.6,0.4,0.0],
  [-0.8,0.6,2.0,0.4,-0.5,0.8,1.6,-0.4,-1.5,-2.0,-3.1,0.3,1.8,0.6,-0.7,1.2,2.9,0.4,-1.3,0.8,2.5,0.6,-0.4,1.4,3.5,0.5,-1.6,0.3,2.1,0.4,-0.9,0.6,2.0,-0.4,-2.0,0.2,1.4,-0.5,-2.1,-0.8,-0.3],
  [0.5,-0.6,-2.2,0.4,1.9,0.8,0.2,1.3,2.5,0.3,-1.1,0.2,1.3,0.4,-0.3,1.1,2.7,0.5,-1.7,0.2,1.5,0.6,0.1,1.0,2.1,0.4,-1.0,0.8,3.6,0.7,-0.6,0.5,1.7,1.3,3.1,0.4,-2.1,0.1,1.0,0.5,0.2],
  [0.2,0.6,1.0,0.3,-0.6,0.4,1.3,0.5,-0.3,0.2,0.9,0.4,-1.1,0.3,1.4,0.6,0.1,-0.2,-0.5,0.4,1.2,0.2,-0.9,0.1,0.6,-1.2,-2.8,0.2,0.8,0.4,0.0,0.5,1.1,0.3,-0.4,0.2,0.7,0.3,-0.2,0.1,0.3],
  [-0.3,0.2,0.7,-0.2,-1.0,0.1,0.9,0.3,-0.5,-0.1,0.4,-0.3,-0.8,0.4,1.1,0.3,-0.2,0.2,0.6,-0.4,-1.2,0.2,0.8,0.1,-0.4,0.5,1.0,0.2,-0.6,0.0,0.5,0.3,-0.9,0.1,0.7,0.2,-0.1,0.2,0.4,0.1,0.0],
  [1.1,0.2,-0.5,0.6,1.5,0.2,-1.3,-0.2,0.6,1.2,1.8,0.4,-0.9,0.0,0.8,0.3,-1.5,0.2,1.3,0.5,-0.2,0.4,0.9,-0.3,-1.1,0.6,1.6,0.4,-0.6,0.2,0.4,-0.5,-1.3,0.4,1.2,0.5,-0.4,0.2,0.8,0.3,-0.1],
];
const panel10 = [
  [0.0,0.2,0.3,-0.2,-0.3,0.4,0.5,-0.3,-0.4,0.6,0.8,-0.2,-0.6,0.5,1.0,0.3,-1.8,-0.5,1.2,0.6,-0.8,0.4,1.6,0.3,-1.3,0.7,3.4,0.5,-1.1,0.8,1.8,-0.4,-1.5,0.9,2.4,0.6,-1.2,0.7,2.3,0.4,-1.4],
  [0.1,-0.1,-0.3,0.2,0.4,-0.2,-0.5,0.3,0.7,-0.1,-0.4,0.5,0.9,-0.3,-0.8,0.4,1.1,0.2,-0.6,0.6,1.3,-0.3,-1.0,0.4,1.5,0.6,-0.9,0.3,1.8,0.7,-1.4,0.2,2.1,0.5,-1.2,0.8,1.6,-0.5,-3.0,-0.4,0.4],
  [-0.1,0.2,0.4,0.0,-0.2,0.3,0.7,0.1,-0.3,0.5,0.9,0.2,-0.6,0.4,0.8,-0.5,-2.0,0.3,1.0,0.6,-0.7,0.2,1.4,0.4,-1.1,0.3,0.8,1.2,1.8,0.5,-1.3,0.4,2.3,0.8,-0.9,0.3,1.3,0.6,-0.5,0.2,0.6],
  [0.2,-0.2,-0.4,0.1,0.3,-0.3,-0.6,0.2,0.5,-0.4,-0.8,0.3,0.6,-0.2,-0.5,0.5,1.3,0.3,-0.9,0.2,0.7,-0.5,-1.2,0.4,1.6,0.6,-0.6,0.4,-2.0,-0.6,1.4,0.5,-1.0,0.7,2.0,0.3,-1.6,-0.8,-2.6,-0.3,0.3],
  [0.0,0.3,0.5,0.1,-0.4,-0.2,0.3,0.4,-0.6,0.2,1.0,0.5,-0.3,0.4,0.9,-0.2,-0.8,0.5,1.5,0.3,-1.1,0.2,0.8,-0.4,-1.4,0.6,1.7,0.2,-2.5,0.4,2.1,1.2,3.0,0.3,-1.6,0.5,1.2,-0.6,-2.0,0.4,-0.3],
  [-0.2,0.1,0.2,-0.3,-0.5,0.2,0.6,-0.2,-0.8,0.1,0.4,-0.5,-1.0,0.3,1.2,0.5,-0.7,0.4,1.5,0.2,-1.3,-0.3,0.9,1.4,1.8,0.3,-1.1,0.4,1.6,-0.6,-1.7,0.5,2.3,0.7,-1.4,0.3,2.0,0.6,-0.9,0.2,-0.5],
  [0.1,0.0,-0.2,0.3,0.6,0.2,-0.3,0.5,0.9,0.3,-0.4,0.6,1.4,0.4,-0.7,-1.2,-2.1,0.4,1.3,0.8,-0.8,0.6,2.1,0.7,-0.5,0.4,1.4,0.3,-1.2,0.7,2.2,0.5,-0.8,-2.0,-3.8,-0.4,2.9,1.0,0.4,1.6,0.2],
  [0.0,0.1,0.2,0.0,-0.1,0.2,0.4,0.1,-0.2,0.3,0.5,0.1,-0.4,0.2,0.6,0.2,-0.3,0.4,0.8,0.3,-0.6,0.3,1.0,0.4,-0.4,0.5,1.2,0.3,-0.7,0.4,0.9,0.2,-0.5,0.6,1.1,0.2,-0.8,0.3,0.6,0.2,0.1],
  [-0.1,0.1,0.3,0.0,-0.3,0.1,0.2,0.3,0.5,-0.2,-0.6,0.2,0.4,-0.1,-0.5,0.3,0.8,0.2,-0.3,0.4,1.0,0.1,-0.9,0.2,0.6,-0.4,-1.2,0.3,1.1,0.4,-0.7,0.2,1.5,0.3,-1.0,0.2,0.7,-0.2,-0.8,0.1,0.2],
  [0.2,0.0,-0.1,0.2,0.4,0.0,-0.4,0.3,0.3,0.5,0.8,0.1,-0.5,0.2,0.6,-0.3,-1.0,0.3,0.9,0.5,0.2,-0.4,-1.0,0.5,1.3,0.3,-0.8,0.2,0.7,-0.5,-1.5,0.3,1.0,0.4,-0.6,-1.1,-2.2,0.5,1.2,0.4,0.0],
];

const panels = [panel1, panel2, panel3, panel4, panel5, panel6, panel7, panel8, panel9, panel10];

const FONT = '"Liberation Sans", Arial, Helvetica, sans-serif';
const COL_LEFT = [23, 166, 309, 451];
const ROW_TOP = [34, 229, 423];
const GRID_W = 119;
const GRID_H = 138;

function buildOption() {
  const grids: any[] = [];
  const xAxes: any[] = [];
  const yAxes: any[] = [];
  const series: any[] = [];
  const graphics: any[] = [];
  const frameLine = { show: true, onZero: false, lineStyle: { color: "#222", width: 1 } };

  panels.forEach((panel, i) => {
    const row = Math.floor(i / 4);
    const col = i % 4;
    const left = COL_LEFT[col];
    const top = ROW_TOP[row];
    grids.push({
      left,
      top,
      width: GRID_W,
      height: GRID_H,
      show: true,
      borderColor: "#222",
      borderWidth: 1,
      backgroundColor: "rgba(0,0,0,0)",
    });
    xAxes.push({
      type: "value",
      gridIndex: i,
      position: "bottom",
      min: -10,
      max: 238,
      axisLine: frameLine,
      splitLine: { show: false },
      axisTick: { show: true, inside: false, length: 5, customValues: xTicks, lineStyle: { color: "#222", width: 1 } },
      axisLabel: { show: true, customValues: xTicks, fontSize: 9.5, color: "#222", fontFamily: FONT, margin: 12 },
    });
    yAxes.push({
      type: "value",
      gridIndex: i,
      position: "left",
      min: -4.32,
      max: 4.32,
      axisLine: frameLine,
      splitLine: { show: false },
      axisTick: { show: true, inside: false, length: 5, customValues: yTicks, lineStyle: { color: "#222", width: 1 } },
      axisLabel: {
        show: true,
        customValues: yTicks,
        fontSize: 9.5,
        color: "#222",
        fontFamily: FONT,
        margin: 7,
        formatter: (v: number) => (v < 0 ? "\u2212" + Math.abs(v) : String(v)),
      },
    });
    panel.forEach((vals, u) => {
      series.push({
        type: "line",
        name: unitNames[u],
        xAxisIndex: i,
        yAxisIndex: i,
        data: vals.slice(0, timeSteps.length).map((v, k) => [timeSteps[k], v]),
        symbol: "none",
        showSymbol: false,
        silent: true,
        lineStyle: { color: unitColors[u], width: 1, type: unitDashes[u] },
        itemStyle: { color: unitColors[u] },
        emphasis: { disabled: true },
      });
    });

    const sup = titleSups[i];
    let text = `{n|g}{s|${titleSubs[i]}}{n|${titleBodies[i]}}`;
    if (sup) text += `{p|${sup}}`;
    if (titleTails[i]) text += `{n|${titleTails[i]}}`;
    graphics.push({
      type: "text",
      x: left + GRID_W / 2,
      y: top - 12,
      silent: true,
      style: {
        text,
        align: "center",
        verticalAlign: "middle",
        fill: "#111",
        rich: {
          n: { fontSize: 12, fontFamily: FONT, lineHeight: 18, verticalAlign: "middle", fill: "#111" },
          s: { fontSize: 8.5, fontFamily: FONT, lineHeight: 8, verticalAlign: "bottom", fill: "#111" },
          p: { fontSize: 8.5, fontFamily: FONT, lineHeight: 8, verticalAlign: "top", fill: "#111" },
        },
      },
    });
  });

  // frame axes: top and right edges of each panel box
  panels.forEach((_, i) => {
    xAxes.push({
      type: "value",
      gridIndex: i,
      position: "top",
      min: -10,
      max: 238,
      axisLine: frameLine,
      axisTick: { show: false },
      axisLabel: { show: false },
      splitLine: { show: false },
    });
    yAxes.push({
      type: "value",
      gridIndex: i,
      position: "right",
      min: -4.32,
      max: 4.32,
      axisLine: frameLine,
      axisTick: { show: false },
      axisLabel: { show: false },
      splitLine: { show: false },
    });
  });

  const legendCommon = {
    orient: "vertical",
    top: 450,
    padding: 0,
    itemWidth: 28,
    itemHeight: 14,
    itemGap: 2.5,
    selectedMode: false,
    itemStyle: { opacity: 0 },
    textStyle: { fontSize: 14.5, fontFamily: FONT, color: "#111", lineHeight: 14, padding: [0, 0, 0, 8] },
  };

  return {
    animation: false,
    backgroundColor: "#ffffff",
    grid: grids,
    xAxis: xAxes,
    yAxis: yAxes,
    series,
    graphic: graphics,
    legend: [
      { ...legendCommon, left: 325, data: unitNames.filter((_, k) => k % 2 === 0) },
      { ...legendCommon, left: 448, data: unitNames.filter((_, k) => k % 2 === 1) },
    ],
  };
}

export default function App() {
  const ref = useRef<HTMLDivElement>(null);
  useEffect(() => {
    if (!ref.current) return;
    const chart = echarts.init(ref.current, undefined, { renderer: "svg" });
    chart.setOption(buildOption() as any);
    return () => chart.dispose();
  }, []);
  return (
    <div
      ref={ref}
      style={{ position: "fixed", left: 0, top: 0, width: 585, height: 585, background: "#fff" }}
    />
  );
}
